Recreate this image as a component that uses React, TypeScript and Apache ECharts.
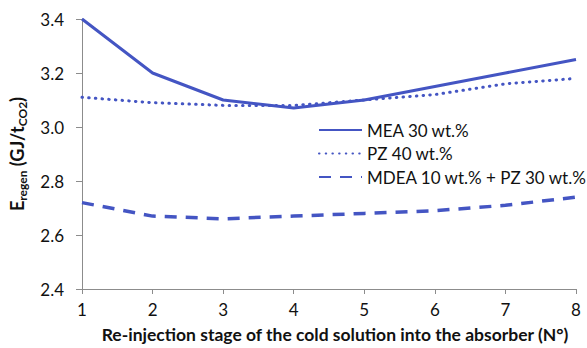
import React, { useEffect, useRef } from "react";
import * as echarts from "echarts";

// Re-injection stage (x) and regeneration energy per solvent (GJ/tCO2)
const stages = [1, 2, 3, 4, 5, 6, 7, 8];
const mea30 = [3.4, 3.2, 3.1, 3.07, 3.1, 3.15, 3.2, 3.25];
const pz40 = [3.11, 3.09, 3.08, 3.08, 3.1, 3.12, 3.16, 3.18];
const mdeaPz = [2.72, 2.67, 2.66, 2.67, 2.68, 2.69, 2.71, 2.74];
const seriesNames = ["MEA 30 wt.%", "PZ 40 wt.%", "MDEA 10 wt.% + PZ 30 wt.%"];
const yTicks = { min: 2.4, max: 3.4, step: 0.2 };

const COLOR = "#4455c3";
const FONT = "Lato";

const pairs = (vals: number[]) => stages.map((s, i) => [s, vals[i]]);

export default function App() {
  const ref = useRef<HTMLDivElement>(null);

  useEffect(() => {
    if (!ref.current) return;
    const chart = echarts.init(ref.current, undefined, { renderer: "svg" });
    chart.setOption({
      animation: false,
      backgroundColor: "#ffffff",
      textStyle: { fontFamily: FONT },
      grid: { left: 81, right: 11, top: 19, bottom: 58, containLabel: false },
      legend: {
        orient: "vertical",
        left: 318,
        top: 121,
        padding: 0,
        itemWidth: 43,
        itemHeight: 14,
        itemGap: 5.5,
        itemStyle: { opacity: 0 },
        textStyle: { fontFamily: FONT, fontSize: 17, color: "#111", lineHeight: 18 },
        data: seriesNames,
      },
      xAxis: {
        type: "value",
        min: 1,
        max: 8,
        interval: 1,
        name: "Re-injection stage of the cold solution into the absorber (N°)",
        nameLocation: "middle",
        nameGap: 36,
        nameTextStyle: { fontFamily: FONT, fontSize: 17.5, fontWeight: "bold", color: "#111", padding: [0, 0, 0, 12] },
        axisLine: { lineStyle: { color: "#8c8c8c", width: 1 } },
        axisTick: { show: true, inside: false, length: 5, lineStyle: { color: "#8c8c8c" } },
        axisLabel: { fontFamily: FONT, fontSize: 17, color: "#111", margin: 12 },
        splitLine: { show: false },
      },
      yAxis: {
        type: "value",
        min: yTicks.min,
        max: yTicks.max,
        interval: yTicks.step,
        name: "{b|E}{s|regen}{b| (GJ/t}{s|CO2}{b|)}",
        nameLocation: "middle",
        nameRotate: 90,
        nameGap: 54,
        nameTextStyle: {
          rich: {
            b: { fontFamily: FONT, fontSize: 18, fontWeight: "bold", color: "#111", lineHeight: 22, verticalAlign: "middle" },
            s: { fontFamily: FONT, fontSize: 12, fontWeight: "bold", color: "#111", lineHeight: 22, verticalAlign: "bottom", padding: [7, 0, 0, 0] },
          },
        },
        axisLine: { show: true, lineStyle: { color: "#8c8c8c", width: 1 } },
        axisTick: { show: true, inside: false, length: 6, lineStyle: { color: "#8c8c8c" } },
        axisLabel: {
          fontFamily: FONT,
          fontSize: 17,
          color: "#111",
          margin: 18,
          formatter: (v: number) => v.toFixed(1),
        },
        splitLine: { show: false },
      },
      series: [
        {
          name: seriesNames[0],
          type: "line",
          data: pairs(mea30),
          symbol: "none",
          lineStyle: { color: COLOR, width: 3 },
          itemStyle: { color: COLOR },
        },
        {
          name: seriesNames[1],
          type: "line",
          data: pairs(pz40),
          symbol: "none",
          lineStyle: { color: COLOR, width: 3, type: [0.5, 6.2], cap: "round" },
          itemStyle: { color: COLOR },
        },
        {
          name: seriesNames[2],
          type: "line",
          data: pairs(mdeaPz),
          symbol: "none",
          lineStyle: { color: COLOR, width: 3.5, type: [12, 9] },
          itemStyle: { color: COLOR },
        },
      ],
    });
    return () => chart.dispose();
  }, []);

  return (
    <div
      ref={ref}
      style={{ position: "fixed", left: 0, top: 0, width: 587, height: 348, background: "#fff" }}
    />
  );
}
